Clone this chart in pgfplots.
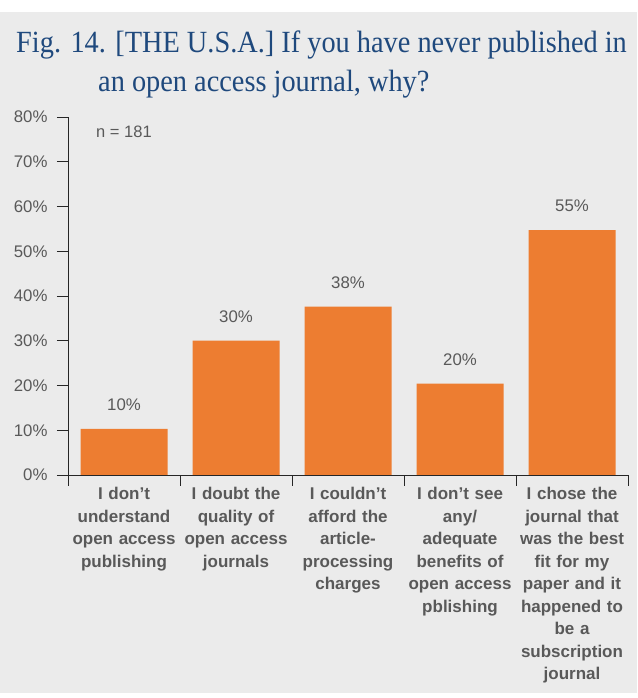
\documentclass[border=0pt]{standalone}
\usepackage{pgfplots}
\pgfplotsset{compat=1.18}
\usepackage{fontspec}
\setmainfont{Liberation Sans}
\newfontfamily\titlefont[FakeStretch=0.92]{Liberation Serif}
\definecolor{bg}{RGB}{235,235,235}
\definecolor{barc}{RGB}{237,125,49}
\definecolor{txt}{RGB}{89,89,89}
\definecolor{ttl}{RGB}{31,73,125}
\begin{document}
\begin{tikzpicture}[x=1pt,y=1pt]
\useasboundingbox (0,0) rectangle (637,698);
\fill[white] (0,0) rectangle (637,698);
\fill[bg] (0,5) rectangle (637,686);
\node[anchor=base west, inner sep=0, text=ttl, font=\titlefont\fontsize{30.8}{36}\selectfont] at (16,645.3) {Fig. 14. [THE U.S.A.] If you have never published in};
\node[anchor=base west, inner sep=0, text=ttl, font=\titlefont\fontsize{30.8}{36}\selectfont] at (98,606.3) {an open access journal, why?};
\begin{axis}[
  at={(68pt,223pt)}, anchor=south west,
  scale only axis, width=560pt, height=358pt,
  xmin=-0.5, xmax=4.5, ymin=0, ymax=80,
  axis x line=bottom, axis y line=left,
  axis line style={-, black!85, line width=0.9pt},
  ytick={0,10,...,80},
  yticklabel={\pgfmathprintnumber{\tick}\%},
  /pgf/number format/assume math mode=true,
  yticklabel style={text=txt, font=\fontsize{16.8}{19.8}\selectfont, xshift=-6pt},
  ytick style={black!85, line width=0.9pt},
  tick align=outside,
  major tick length=11pt,
  xtick={0,1,2,3,4},
  x tick style={draw=none},
  xticklabels={{I don’t\\understand\\open access\\publishing},
    {I doubt the\\quality of\\open access\\journals},
    {I couldn’t\\afford the\\article-\\processing\\charges},
    {I don’t see\\any/\\adequate\\benefits of\\open access\\pblishing},
    {I chose the\\journal that\\was the best\\fit for my\\paper and it\\happened to\\be a\\subscription\\journal}},
  xticklabel style={text=txt, font=\bfseries\fontsize{17}{22.5}\selectfont, text width=112pt, align=center, anchor=north, yshift=2pt},
  extra x ticks={-0.5,0.5,1.5,2.5,3.5,4.5},
  extra x tick labels={},
  extra x tick style={x tick style={draw=black!85, line width=0.9pt}, major tick length=11pt},
  axis background/.style={fill=none},
  clip=false,
]
\addplot[ybar, bar width=87pt, fill=barc, draw=none,
  nodes near coords={\pgfmathprintnumber[fixed,precision=0]{\pgfplotspointmeta}\%},
  every node near coord/.style={text=txt, font=\fontsize{16.8}{19.8}\selectfont, anchor=south, yshift=15pt}]
  coordinates {(0,10.3) (1,30.0) (2,37.6) (3,20.4) (4,54.7)};
\node[text=txt, font=\fontsize{16.5}{19.8}\selectfont] at (axis cs:0,76.6) {n = 181};
\end{axis}
\end{tikzpicture}
\end{document}
